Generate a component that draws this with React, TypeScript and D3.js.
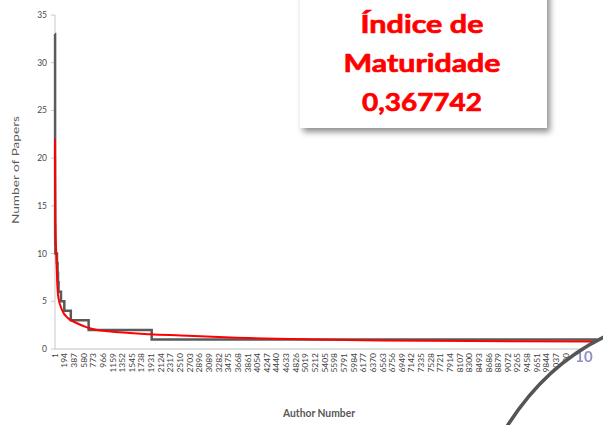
import React from "react";
import * as d3 from "d3";

// ---- data ----
const authorTotal = 10850;
const tickStep = 193;
const yTicks = [0, 5, 10, 15, 20, 25, 30, 35];

// observed productivity (papers per author, authors ranked) – step runs
const stepStartAuthor = [1, 2, 3, 4, 5, 8, 40, 52, 61, 72, 120, 187, 317, 674, 1936];
const stepPapers = [33, 20, 13, 12, 11, 10, 9, 8, 7, 6, 5, 4, 3, 2, 1];

// fitted curve (red)
const fitAuthor = [1, 3, 10, 25, 45, 65, 140, 270, 440, 640, 840, 1070, 1900, 2520, 3520, 5180, 6520, 8320, 10850];
const fitPapers = [22, 18, 13, 10, 7, 5.5, 4.1, 3.2, 2.7, 2.27, 2.0, 1.85, 1.55, 1.42, 1.2, 1.0, 0.9, 0.83, 0.78];

const titleLines = ["Índice de", "Maturidade", "0,367742"];
const yTitle = "Number of Papers";
const xTitle = "Author Number";
const slideNumber = "10";

const W = 603;
const H = 425;
const FONT = "Lato, Carlito, Calibri, 'Liberation Sans', sans-serif";

export default function App() {
  const x = d3.scaleLinear().domain([0.5, authorTotal + 0.5]).range([55, 597]);
  const y = d3.scaleLinear().domain([0, 35]).range([349, 15]);

  const xLabels = d3.range(1, authorTotal + 1, tickStep);

  const stepPts: [number, number][] = stepStartAuthor.map((a, i) => [a, stepPapers[i]]);
  stepPts.push([authorTotal, stepPapers[stepPapers.length - 1]]);
  const stepLine = d3
    .line<[number, number]>()
    .x((d) => x(d[0]))
    .y((d) => y(d[1]))
    .curve(d3.curveStepAfter);

  const fitPts: [number, number][] = fitAuthor.map((a, i) => [a, fitPapers[i]]);
  const fitLine = d3
    .line<[number, number]>()
    .x((d) => x(d[0]))
    .y((d) => y(d[1]))
    .curve(d3.curveMonotoneX);

  const titleBaselines = [33, 72, 111];
  const titleWidths = [123, 157, 120];

  return (
    <svg
      width={W}
      height={H}
      viewBox={`0 0 ${W} ${H}`}
      style={{ position: "fixed", left: 0, top: 0, background: "#fff" }}
    >
      <defs>
        <filter id="shadow" x="-10%" y="-20%" width="130%" height="150%">
          <feDropShadow dx="3" dy="4" stdDeviation="3" floodColor="#000" floodOpacity="0.45" />
        </filter>
      </defs>
      <rect x={0} y={0} width={W} height={H} fill="#fff" />

      {/* y axis */}
      <line x1={55} x2={55} y1={y(35)} y2={y(0)} stroke="#d0d0d0" strokeWidth={1.2} />
      {yTicks.map((t) => (
        <g key={t}>
          <line x1={51} x2={55} y1={y(t)} y2={y(t)} stroke="#c8c8c8" strokeWidth={1} />
          <text
            x={47}
            y={y(t)}
            dy="0.35em"
            textAnchor="end"
            fontFamily={FONT}
            fontSize={8.5}
            fill="#4a4a4a"
          >
            {t}
          </text>
        </g>
      ))}

      {/* x axis */}
      <line x1={55} x2={597} y1={349} y2={349} stroke="#bfbfbf" strokeWidth={1.2} />
      {xLabels.map((v) => {
        const s = String(v);
        return (
          <text
            key={v}
            transform={`translate(${x(v) + 2.7},353) rotate(-90)`}
            textAnchor="end"
            fontFamily={FONT}
            fontSize={7.8}
            fill="#404040"
            textLength={s.length * 4.9}
            lengthAdjust="spacingAndGlyphs"
          >
            {s}
          </text>
        );
      })}

      {/* series */}
      <path d={stepLine(stepPts) || ""} fill="none" stroke="#5a5a5a" strokeWidth={2.5} />
      <path d={fitLine(fitPts) || ""} fill="none" stroke="#ff0000" strokeWidth={2} />

      {/* axis titles */}
      <text
        transform={`translate(19,170) rotate(-90)`}
        textAnchor="middle"
        fontFamily={FONT}
        fontSize={10}
        fill="#595959"
        textLength={108}
        lengthAdjust="spacingAndGlyphs"
      >
        {yTitle}
      </text>
      <text
        x={319}
        y={416.5}
        textAnchor="middle"
        fontFamily={FONT}
        fontWeight="bold"
        fontSize={12}
        fill="#595959"
        textLength={72}
        lengthAdjust="spacingAndGlyphs"
      >
        {xTitle}
      </text>

      {/* slide overlay: white area beyond arc, slide number and arc */}
      <path d="M 506 428 Q 545 365 606 336 L 606 428 Z" fill="#fff" />
      <text
        x={584}
        y={362}
        textAnchor="middle"
        fontFamily={FONT}
        fontWeight="bold"
        fontSize={15}
        fill="#7b80b8"
        opacity={0.85}
      >
        {slideNumber}
      </text>
      <path d="M 506 428 Q 545 365 606 336" fill="none" stroke="#555" strokeWidth={3.5} />

      {/* title box */}
      <rect x={300} y={-10} width={247} height={138} fill="#fff" filter="url(#shadow)" />
      {titleLines.map((t, i) => (
        <text
          key={t}
          x={422}
          y={titleBaselines[i]}
          textAnchor="middle"
          fontFamily={FONT}
          fontWeight="bold"
          fontSize={25.5}
          fill="#ff0000"
          stroke="#ff0000"
          strokeWidth={0.7}
          textLength={titleWidths[i]}
          lengthAdjust="spacingAndGlyphs"
        >
          {t}
        </text>
      ))}
    </svg>
  );
}
